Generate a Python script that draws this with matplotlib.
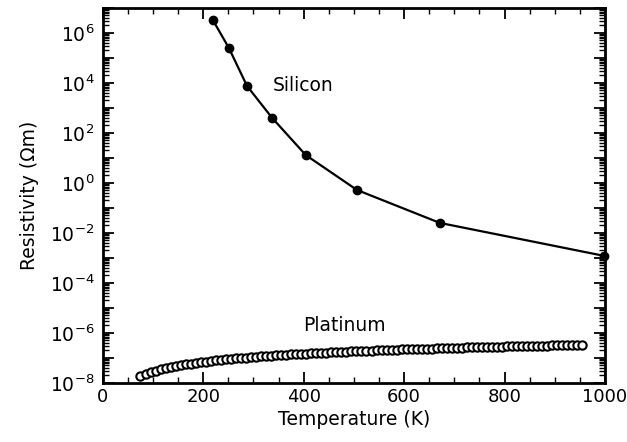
import numpy as np
import matplotlib.pyplot as plt
from matplotlib.ticker import LogLocator, FixedLocator, MultipleLocator, NullFormatter, FuncFormatter

plt.rcParams['font.family'] = ['DejaVu Sans']
plt.rcParams['mathtext.fontset'] = 'dejavusans'

# Silicon: temperature (K), resistivity (ohm m)
si_temp = [219, 251, 287, 337, 404, 506, 671, 998]
si_rho = [3.3e6, 2.5e5, 7.6e3, 4.0e2, 13.0, 0.52, 0.025, 1.2e-3]

# Platinum: temperature (K), resistivity in units of 1e-8 ohm m
pt_temp = [75, 85, 95, 105, 115, 125, 135, 145, 155, 165, 175, 185, 195,
           205, 215, 225, 235, 245, 255, 265, 275, 285, 295, 305, 315, 325,
           335, 345, 355, 365, 375, 385, 395, 405, 415, 425, 435, 445, 455,
           465, 475, 485, 495, 505, 515, 525, 535, 545, 555, 565, 575, 585,
           595, 605, 615, 625, 635, 645, 655, 665, 675, 685, 695, 705, 715,
           725, 735, 745, 755, 765, 775, 785, 795, 805, 815, 825, 835, 845,
           855, 865, 875, 885, 895, 905, 915, 925, 935, 945, 955]
pt_rho_e8 = [1.8, 2.2, 2.6, 3.0, 3.4, 3.8, 4.2, 4.6, 5.0, 5.4, 5.8, 6.2, 6.6,
             7.0, 7.4, 7.8, 8.2, 8.6, 9.0, 9.4, 9.8, 10.2, 10.5, 10.9, 11.3, 11.7,
             12.1, 12.5, 12.8, 13.2, 13.6, 14.0, 14.3, 14.7, 15.1, 15.4, 15.8, 16.2, 16.5,
             16.9, 17.2, 17.6, 18.0, 18.3, 18.7, 19.0, 19.4, 19.7, 20.1, 20.4, 20.8, 21.1,
             21.5, 21.8, 22.2, 22.5, 22.8, 23.2, 23.5, 23.9, 24.2, 24.5, 24.9, 25.2, 25.5,
             25.9, 26.2, 26.5, 26.8, 27.2, 27.5, 27.8, 28.1, 28.5, 28.8, 29.1, 29.4, 29.7,
             30.0, 30.4, 30.7, 31.0, 31.3, 31.6, 31.9, 32.2, 32.5, 32.8, 33.1]
pt_rho = [v * 1e-8 for v in pt_rho_e8]

xtick_vals = [0, 200, 400, 600, 800, 1000]
xtick_labels = ['0', '200', '400', '600', '800', '1000']

fig = plt.figure(figsize=(6.27, 4.42), dpi=100)
ax = fig.add_axes([0.164, 0.134, 0.801, 0.848])

ax.plot(si_temp, si_rho, color='black', lw=1.6, marker='o', ms=6, clip_on=False, zorder=3)
ax.plot(pt_temp, pt_rho, linestyle='none', marker='o', ms=6, mfc='white',
        mec='black', mew=1.5, clip_on=False, zorder=3)

ax.set_yscale('log')
ax.set_xlim(0, 1000)
ax.set_ylim(1e-8, 1e7)


def ylab(v, pos):
    e = int(round(np.log10(v)))
    if e % 2 == 0 and e < 7:
        return '$10^{%d}$' % e
    return ''


ax.yaxis.set_major_locator(LogLocator(base=10, numticks=30))
ax.yaxis.set_minor_locator(LogLocator(base=10, subs=np.arange(2, 10), numticks=30))
ax.yaxis.set_major_formatter(FuncFormatter(ylab))
ax.yaxis.set_minor_formatter(NullFormatter())

ax.xaxis.set_major_locator(FixedLocator(xtick_vals))
ax.xaxis.set_minor_locator(MultipleLocator(50))
ax.set_xticklabels(xtick_labels)

ax.tick_params(which='major', direction='in', length=8, width=1.3, top=True, right=True)
ax.tick_params(axis='y', which='major', pad=6, labelsize=13.5)
ax.tick_params(axis='x', which='major', labelsize=13)
ax.tick_params(which='minor', direction='in', length=4, width=1.0, top=True, right=True)
for s in ax.spines.values():
    s.set_linewidth(2)
# nudge the "1000" label so it stays inside the figure
ax.get_xticklabels()[-1].set_ha('center')
ax.get_xticklabels()[-1].set_x(994)

ax.set_xlabel('Temperature (K)', fontsize=13.5, labelpad=3)
ax.set_ylabel('Resistivity (\u03a9m)', fontsize=13.5, labelpad=8)

ax.text(398, 8e3, 'Silicon', fontsize=13.5, ha='center', va='center')
ax.text(482, 1.9e-6, 'Platinum', fontsize=13.5, ha='center', va='center')

fig.savefig('out.png', dpi=100)
